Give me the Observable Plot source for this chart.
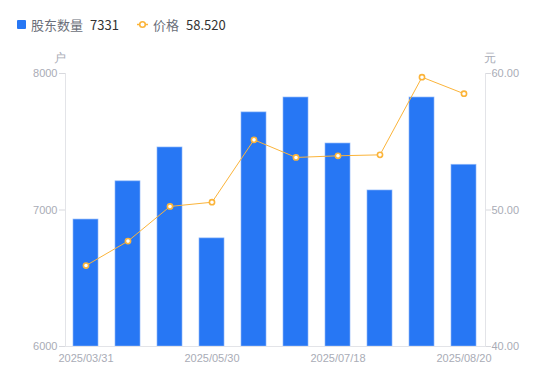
<!DOCTYPE html>
<html>
<head>
<meta charset="utf-8">
<script src="https://cdn.jsdelivr.net/npm/d3@7"></script>
<script src="https://cdn.jsdelivr.net/npm/@observablehq/plot@0.6"></script>
<style>
  body { margin: 0; background: #fff; font-family: "Noto Sans CJK SC", "Noto Sans", sans-serif; }
  #wrap { position: relative; width: 550px; height: 381px; }
  #legend { position: absolute; left: 0; top: 0; width: 550px; height: 40px; font-size: 13px; color: #333; }
  .item { position: absolute; top: 15px; display: flex; align-items: center; white-space: nowrap; }
  .sq { width: 9px; height: 9px; background: #2777f4; border-radius: 1px; margin-right: 5px; }
  .lab { color: #6b6f7a; margin-right: 7px; }
  #chart { position: absolute; left: 0; top: 40px; }
  svg text { font-family: "Liberation Sans", Arial, sans-serif; }
</style>
</head>
<body>
<div id="wrap">
  <div id="legend"></div>
  <div id="chart"></div>
</div>
<script>
const dates = ["2025/03/31","2025/04/10","2025/04/30","2025/05/30","2025/06/10","2025/06/30","2025/07/18","2025/07/31","2025/08/10","2025/08/20"];
const holders = [6930, 7210, 7458, 6792, 7715, 7824, 7487, 7143, 7824, 7331];
const prices = [45.93, 47.72, 50.26, 50.57, 55.14, 53.85, 53.97, 54.04, 59.73, 58.52];
const xTickLabels = ["2025/03/31","2025/05/30","2025/07/18","2025/08/20"];
const leftTicks = [6000, 7000, 8000];
const rightTicks = [40, 50, 60];

const barColor = "#2777f4";
const lineColor = "#fbb43a";
const axisGray = "#a9acb6";

// map price domain [40,60] onto holder domain [6000,8000]
const pToY = p => 6000 + (p - 40) * 100;
const yToP = y => 40 + (y - 6000) / 100;

const rows = dates.map((d, i) => ({date: d, holders: holders[i], price: prices[i]}));

// legend
const legend = document.getElementById("legend");
legend.innerHTML = `
  <div class="item" style="left:17px"><div class="sq"></div><span class="lab">股东数量</span><span>${holders[holders.length-1]}</span></div>
  <div class="item" style="left:137px">
    <svg width="11" height="9" style="margin-right:5px"><line x1="0" y1="4.5" x2="11" y2="4.5" stroke="${lineColor}" stroke-width="1.5"/><circle cx="5.5" cy="4.5" r="2.8" fill="#fff" stroke="${lineColor}" stroke-width="1.6"/></svg>
    <span class="lab">价格</span><span>${prices[prices.length-1].toFixed(3)}</span></div>`;

const chart = Plot.plot({
  width: 550,
  height: 341,
  marginTop: 33,
  marginBottom: 35,
  marginLeft: 65,
  marginRight: 65,
  style: {fontSize: "11px", color: axisGray, background: "transparent"},
  x: {type: "band", domain: dates, paddingInner: 0.4, paddingOuter: 0.2},
  y: {domain: [6000, 8000]},
  marks: [
    Plot.barY(rows, {x: "date", y1: 6000, y2: "holders", fill: barColor, stroke: "#8cb6fa", strokeWidth: 0.8, strokeOpacity: 0.8}),
    Plot.frame({anchor: "left", stroke: "#e3e4e8"}),
    Plot.frame({anchor: "right", stroke: "#e3e4e8"}),
    Plot.frame({anchor: "bottom", stroke: "#e3e4e8"}),
    Plot.axisY({anchor: "left", ticks: leftTicks, tickSize: 6, tickPadding: 2, stroke: "#d8d9de", fill: axisGray, label: null, tickFormat: d => String(d)}),
    Plot.axisY({anchor: "right", ticks: rightTicks.map(pToY), tickSize: 5, tickPadding: 1, stroke: "#d8d9de", fill: axisGray, label: null, tickFormat: d => yToP(d).toFixed(2)}),
    Plot.axisX({ticks: xTickLabels, tickSize: 0, tickPadding: 8, fill: axisGray, label: null}),
    Plot.lineY(rows, {x: "date", y: d => pToY(d.price), stroke: lineColor, strokeWidth: 1}),
    Plot.dot(rows, {x: "date", y: d => pToY(d.price), r: 2.6, fill: "#fff", stroke: lineColor, strokeWidth: 1.6}),
    Plot.text(["户"], {frameAnchor: "top-left", dx: -6, dy: -20, fill: axisGray, fontSize: 12, textAnchor: "middle"}),
    Plot.text(["元"], {frameAnchor: "top-right", dx: 4, dy: -20, fill: axisGray, fontSize: 12, textAnchor: "middle"})
  ]
});
document.getElementById("chart").appendChild(chart);
</script>
</body>
</html>
